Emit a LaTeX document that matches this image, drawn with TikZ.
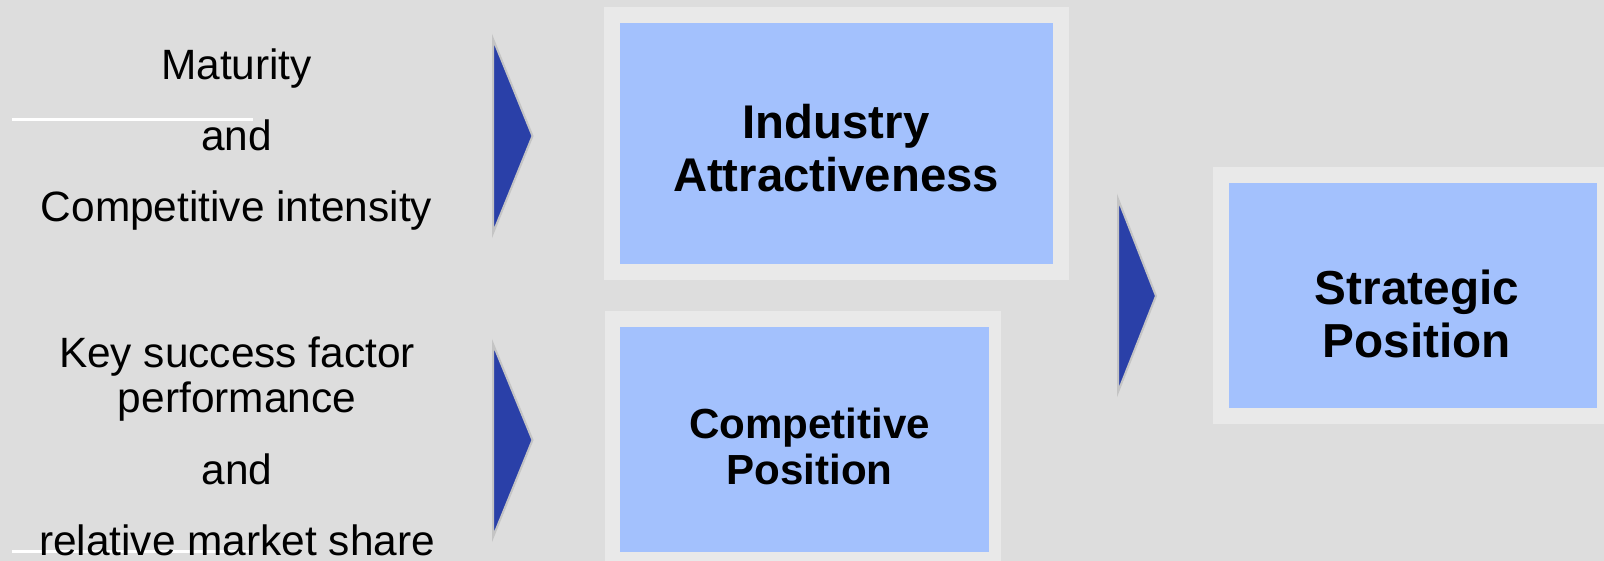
\documentclass[tikz,border=0pt]{standalone}
\usepackage{fontspec}
\setmainfont{Liberation Sans}
\definecolor{bg}{HTML}{DDDDDD}
\definecolor{framecol}{HTML}{E9E9E9}
\definecolor{panelcol}{HTML}{A3C1FD}
\definecolor{chevcol}{HTML}{2A40A8}
\definecolor{chevedge}{HTML}{C4C4C4}
\begin{document}
\begin{tikzpicture}[x=1pt,y=-1pt,
  framebox/.style={fill=framecol, draw=none, inner sep=0pt, outer sep=0pt, anchor=north west},
  panelbox/.style={fill=panelcol, draw=none, inner sep=0pt, outer sep=0pt, anchor=north west},
  lefttext/.style={inner sep=0pt, anchor=north, align=center, text=black},
  boxtext/.style={inner sep=0pt, anchor=north, align=center, text=black},
  chevron/.style={fill=chevcol, draw=chevedge, line width=2pt, line join=miter},
  whiteline/.style={draw=white, line width=3pt}]
\fill[bg] (0,0) rectangle (1604,561);
\useasboundingbox (0,0) rectangle (1604,561);
\clip (0,0) rectangle (1604,561);

% frames and panels
\node[framebox, minimum width=465pt, minimum height=273pt] (iaF) at (604,7) {};
\node[panelbox, minimum width=433pt, minimum height=241pt] (ia) at (620,23) {};
\node[framebox, minimum width=396pt, minimum height=257pt] (cpF) at (605,311) {};
\node[panelbox, minimum width=369pt, minimum height=225pt] (cp) at (620,327) {};
\node[framebox, minimum width=400pt, minimum height=257pt] (spF) at (1213,167) {};
\node[panelbox, minimum width=368pt, minimum height=225pt] (sp) at (1229,183) {};

% box texts
\node[boxtext, font=\fontsize{47.3}{53}\selectfont\bfseries] (iaT) at (836,104) {Industry\\Attractiveness};
\node[boxtext, font=\fontsize{42.1}{46}\selectfont\bfseries] (cpT) at (809.5,408) {Competitive\\Position};
\node[boxtext, font=\fontsize{47.7}{53}\selectfont\bfseries] (spT) at (1417,270) {Strategic\\Position};

% white rules
\coordinate (l1a) at (12,120);
\coordinate (l1b) at (253,120);
\coordinate (l2a) at (12,551);
\coordinate (l2b) at (253,551);
\draw[whiteline] (l1a) -- (l1b);
\draw[whiteline] (l2a) -- (l2b);

% left texts
\node[lefttext, font=\fontsize{42.4}{71}\selectfont] (in1) at (236.5,48.6) {Maturity\\and\\Competitive intensity};
\node[lefttext, font=\fontsize{42.4}{45}\selectfont] (in2) at (237,336.6) {Key success factor\\performance\\[27pt]and\\[26pt]relative market share};

% chevrons
\filldraw[chevron] (493,39) -- (532.5,136) -- (493,233) -- cycle;
\filldraw[chevron] (493,344) -- (532.5,440) -- (493,537) -- cycle;
\filldraw[chevron] (1118,199) -- (1156,296) -- (1118,392) -- cycle;
\end{tikzpicture}
\end{document}
